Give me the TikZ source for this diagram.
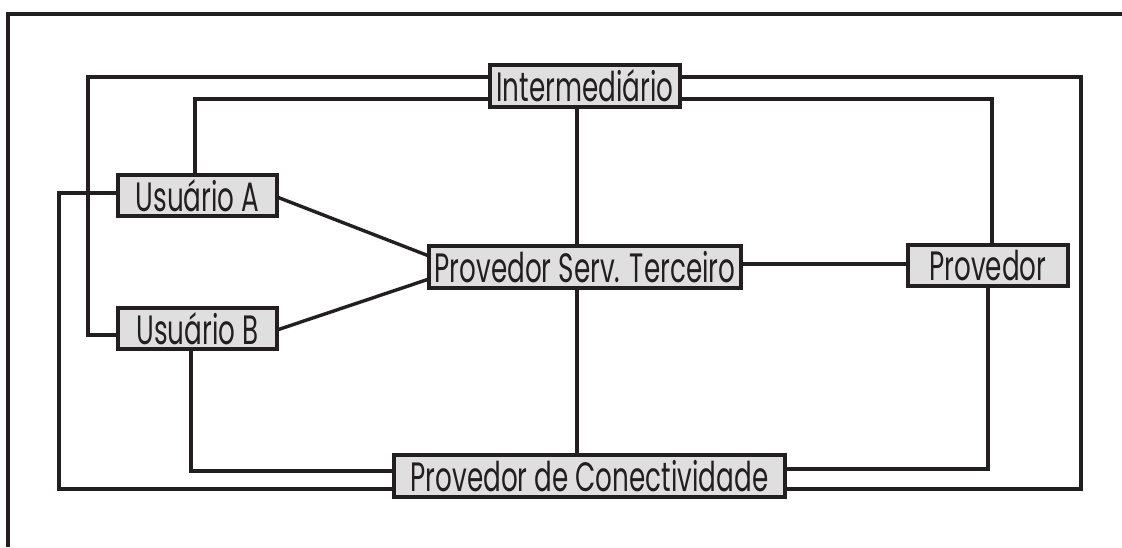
\documentclass[tikz,border=0pt]{standalone}
\usepackage{fontspec}
\newfontfamily\labfont[FakeStretch=0.64]{Poppins}
\definecolor{ink}{HTML}{231F20}
\definecolor{boxfill}{HTML}{DFDFDF}
\begin{document}
\begin{tikzpicture}[x=1pt,y=-1pt,
  box/.style={draw=ink, fill=boxfill, line width=4pt, inner sep=0pt, outer sep=0pt,
    font=\labfont\fontsize{41}{41}\selectfont, text=ink, anchor=center},
  wire/.style={draw=ink, line width=3.4pt, line join=miter}]
\useasboundingbox (0,0) rectangle (1122,547);
% frame
\coordinate (fa) at (1122,14);
\coordinate (fb) at (8,14);
\coordinate (fc) at (8,547);
\draw[wire] (fa) -- (fb) -- (fc);
% nodes
\node[box, minimum width=190pt, minimum height=42pt] (inter) at (585,86) {Intermediário};
\node[box, minimum width=159pt, minimum height=41pt] (ua) at (197.5,195.5) {Usuário A};
\node[box, minimum width=159pt, minimum height=41pt] (ub) at (197.5,328.5) {Usuário B};
\node[box, minimum width=312pt, minimum height=42pt] (pst) at (585,267) {Provedor Serv. Terceiro};
\node[box, minimum width=160pt, minimum height=41pt] (prov) at (988,265.5) {Provedor};
\node[box, minimum width=391pt, minimum height=42pt] (pdc) at (589.5,476) {Provedor de Conectividade};
% bend coordinates
\coordinate (o1) at (88,77);
\coordinate (o2) at (88,335);
\coordinate (i1) at (195,99);
\coordinate (o3) at (1081,77);
\coordinate (o4) at (1081,489);
\coordinate (i2) at (992,99);
\coordinate (i3) at (988,469);
\coordinate (ca) at (59,193);
\coordinate (cb) at (59,489);
\coordinate (cc) at (191,471);
\coordinate (v) at (577,170);
\coordinate (h) at (800,264);
% connectors
\draw[wire] (inter.west |- o1) -- (o1) -- (o2) -- (ub.west |- o2);
\draw[wire] (inter.west |- i1) -- (i1) -- (ua.north -| i1);
\draw[wire] (inter.east |- o3) -- (o3) -- (o4) -- (pdc.east |- o4);
\draw[wire] (inter.east |- i2) -- (i2) -- (prov.north -| i2);
\draw[wire] (prov.south -| i3) -- (i3) -- (pdc.east |- i3);
\draw[wire] (ua.west |- ca) -- (ca) -- (cb) -- (pdc.west |- cb);
\draw[wire] (ub.south -| cc) -- (cc) -- (pdc.west |- cc);
\draw[wire] (inter.south -| v) -- (pst.north -| v);
\draw[wire] (pst.south -| v) -- (pdc.north -| v);
\draw[wire] (pst.east |- h) -- (prov.west |- h);
\draw[wire] ([yshift=-1.5pt]ua.east) -- ([yshift=11pt]pst.west);
\draw[wire] ([yshift=-1.5pt]ub.east) -- ([yshift=-12pt]pst.west);
\end{tikzpicture}
\end{document}
